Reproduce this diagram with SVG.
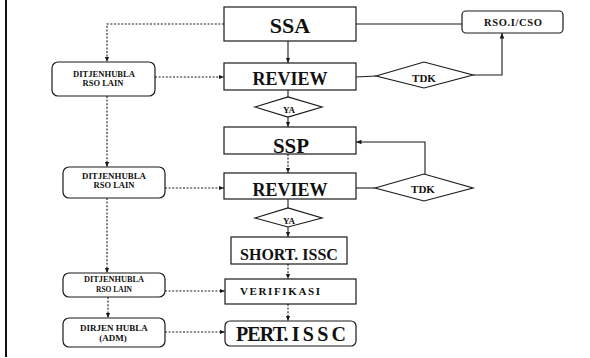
<svg xmlns="http://www.w3.org/2000/svg" width="590" height="358" viewBox="0 0 590 358">
  <style>
    .box { fill: #fff; stroke: #1a1a1a; stroke-width: 1.2; }
    .t { font-family: "Liberation Serif", "DejaVu Serif", "Times New Roman", serif; font-weight: bold; fill: #111; text-anchor: middle; }
    .solid { fill: none; stroke: #1a1a1a; stroke-width: 1.1; }
    .dot { fill: none; stroke: #1a1a1a; stroke-width: 1.1; stroke-dasharray: 2 1.6; }
  </style>
  <defs>
    <marker id="arr" viewBox="0 0 6 6" refX="6" refY="3" markerWidth="5" markerHeight="5" orient="auto">
      <path d="M0,0.5 L6,3 L0,5.5 z" fill="#1a1a1a"/>
    </marker>
  </defs>
  <rect width="590" height="358" fill="#fff"/>
  <line x1="6" y1="0" x2="6" y2="357" stroke="#111" stroke-width="2"/>

  <!-- connectors -->
  <g id="connectors">
    <!-- main flow -->
    <line class="solid" x1="288" y1="41" x2="288" y2="63" marker-end="url(#arr)"/>
    <line class="solid" x1="288" y1="90" x2="288" y2="97"/>
    <line class="solid" x1="288" y1="117" x2="288" y2="127" marker-end="url(#arr)"/>
    <line class="dot" x1="288" y1="154" x2="288" y2="173" marker-end="url(#arr)"/>
    <line class="solid" x1="288" y1="199" x2="288" y2="208"/>
    <line class="solid" x1="288" y1="227" x2="288" y2="237" marker-end="url(#arr)"/>
    <line class="dot" x1="288" y1="264" x2="288" y2="279" marker-end="url(#arr)"/>
    <line class="dot" x1="288" y1="304" x2="288" y2="321" marker-end="url(#arr)"/>
    <!-- right side -->
    <line class="solid" x1="356" y1="24" x2="462" y2="24"/>
    <line class="solid" x1="356" y1="77" x2="376" y2="76"/>
    <polyline class="solid" points="473,75 502,75 502,33" marker-end="url(#arr)"/>
    <line class="solid" x1="356" y1="188" x2="375" y2="188"/>
    <polyline class="solid" points="425,175 425,142 356,142" marker-end="url(#arr)"/>
    <!-- left side -->
    <polyline class="dot" points="224,24 107,24 107,62" marker-end="url(#arr)"/>
    <line class="dot" x1="155" y1="77" x2="224" y2="77" marker-end="url(#arr)"/>
    <line class="dot" x1="107" y1="96" x2="107" y2="167" marker-end="url(#arr)"/>
    <line class="dot" x1="165" y1="188" x2="224" y2="188" marker-end="url(#arr)"/>
    <line class="dot" x1="107" y1="198" x2="107" y2="273" marker-end="url(#arr)"/>
    <line class="dot" x1="165" y1="291" x2="225" y2="291" marker-end="url(#arr)"/>
    <line class="dot" x1="108" y1="297" x2="108" y2="318" marker-end="url(#arr)"/>
    <line class="dot" x1="165" y1="332" x2="225" y2="332" marker-end="url(#arr)"/>
  </g>

  <g id="ssa">
    <rect class="box" x="224" y="7" width="132" height="34"/>
    <text class="t" x="290" y="33" font-size="22">SSA</text>
  </g>
  <g id="review1">
    <rect class="box" x="224" y="63" width="132" height="27"/>
    <text class="t" x="290" y="85" font-size="18">REVIEW</text>
  </g>
  <g id="ya1">
    <polygon class="box" points="255,107 288,97 322,107 288,117"/>
    <text class="t" x="289" y="113" font-size="9">YA</text>
  </g>
  <g id="ssp">
    <rect class="box" x="224" y="127" width="132" height="27"/>
    <text class="t" x="291" y="153" font-size="21">SSP</text>
  </g>
  <g id="review2">
    <rect class="box" x="224" y="173" width="132" height="26"/>
    <text class="t" x="290" y="196" font-size="18">REVIEW</text>
  </g>
  <g id="ya2">
    <polygon class="box" points="255,218 288,208 322,218 288,227"/>
    <text class="t" x="289" y="224" font-size="9">YA</text>
  </g>
  <g id="short-issc">
    <rect class="box" x="231" y="237" width="116" height="27"/>
    <text class="t" x="289" y="260" font-size="16">SHORT. ISSC</text>
  </g>
  <g id="verifikasi">
    <rect class="box" x="225" y="279" width="131" height="25"/>
    <text class="t" x="280" y="295" font-size="11" textLength="80" lengthAdjust="spacing">VERIFIKASI</text>
  </g>
  <g id="pert-issc">
    <rect class="box" x="225" y="321" width="131" height="25" rx="5"/>
    <text class="t" x="291" y="341" font-size="20" textLength="110" lengthAdjust="spacing">PERT. I S S C</text>
  </g>

  <g id="rso-cso">
    <rect class="box" x="462" y="11" width="101" height="22" rx="4"/>
    <text class="t" x="513" y="26" font-size="10.5" textLength="58" lengthAdjust="spacing">RSO.I/CSO</text>
  </g>
  <g id="tdk1">
    <polygon class="box" points="376,76 424,62 473,75 424,88"/>
    <text class="t" x="424" y="82" font-size="11">TDK</text>
  </g>
  <g id="tdk2">
    <polygon class="box" points="375,188 424,174 473,188 424,201"/>
    <text class="t" x="423" y="193" font-size="11">TDK</text>
  </g>

  <g id="hubla1">
    <rect class="box" x="52" y="62" width="103" height="34" rx="6"/>
    <text class="t" x="104" y="77" font-size="8.5" textLength="62" lengthAdjust="spacingAndGlyphs">DITJENHUBLA</text>
    <text class="t" x="103" y="86" font-size="8.5">RSO LAIN</text>
  </g>
  <g id="hubla2">
    <rect class="box" x="63" y="167" width="102" height="31" rx="6"/>
    <text class="t" x="114" y="179" font-size="8.5" textLength="64" lengthAdjust="spacingAndGlyphs">DITJENHUBLA</text>
    <text class="t" x="114" y="188" font-size="8.5">RSO LAIN</text>
  </g>
  <g id="hubla3">
    <rect class="box" x="63" y="273" width="102" height="24" rx="6"/>
    <text class="t" x="114" y="282" font-size="7.5" textLength="60" lengthAdjust="spacingAndGlyphs">DITJENHUBLA</text>
    <text class="t" x="114" y="291.5" font-size="7.5">RSO LAIN</text>
  </g>
  <g id="dirjen">
    <rect class="box" x="63" y="318" width="102" height="29" rx="6"/>
    <text class="t" x="114" y="331" font-size="9">DIRJEN HUBLA</text>
    <text class="t" x="113" y="341" font-size="9">(ADM)</text>
  </g>
</svg>
